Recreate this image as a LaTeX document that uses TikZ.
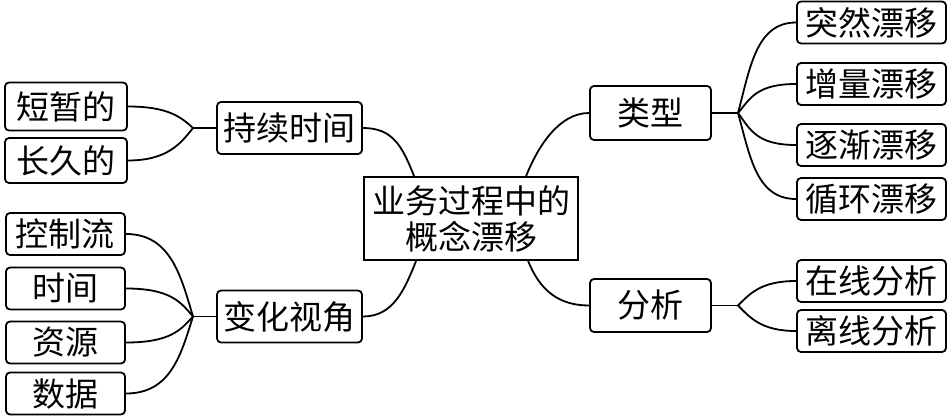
\documentclass[tikz,border=0pt]{standalone}
\usepackage{fontspec}
\newfontfamily\cjkfam{Noto Sans CJK SC}
\usetikzlibrary{calc}
\tikzset{
  basebox/.style={draw, line width=1.8pt, inner sep=0pt, align=center,
    font=\cjkfam\fontsize{33}{36}\selectfont},
  leafbox/.style={basebox, rounded corners=4pt, minimum height=42pt},
  branchbox/.style={basebox, rounded corners=4pt, minimum width=145pt, minimum height=52pt},
  rootbox/.style={basebox, minimum width=214pt, minimum height=83pt},
  link/.style={line width=1.8pt, line cap=round}
}
\begin{document}
\begin{tikzpicture}[x=1pt,y=-1pt]
\useasboundingbox (0,0) rectangle (950,417);
% root
\node[rootbox] (root) at (471,218.5) {业务过程中的\\概念漂移};
% left branches
\node[branchbox] (dur) at (289.5,128) {持续时间};
\node[branchbox] (view) at (289.5,316.5) {变化视角};
\node[leafbox, minimum width=122pt, minimum height=48pt] (short) at (66,106.5) {短暂的};
\node[leafbox, minimum width=122pt, minimum height=45pt] (long) at (66,160.5) {长久的};
\node[leafbox, minimum width=119pt] (ctrl) at (65.5,234) {控制流};
\node[leafbox, minimum width=119pt] (time) at (65.5,288.5) {时间};
\node[leafbox, minimum width=119pt] (res) at (65.5,342.5) {资源};
\node[leafbox, minimum width=119pt] (data) at (65.5,393.5) {数据};
% right branches
\node[branchbox, minimum width=121pt, minimum height=54pt] (type) at (650.5,113) {类型};
\node[branchbox, minimum width=121pt, minimum height=53pt] (ana) at (650.5,305.5) {分析};
\node[leafbox, minimum width=149pt] (sud) at (871.5,22.5) {突然漂移};
\node[leafbox, minimum width=149pt] (inc) at (871.5,84) {增量漂移};
\node[leafbox, minimum width=149pt] (grad) at (871.5,145) {逐渐漂移};
\node[leafbox, minimum width=149pt] (rec) at (871.5,199) {循环漂移};
\node[leafbox, minimum width=149pt] (onl) at (871.5,281) {在线分析};
\node[leafbox, minimum width=149pt] (off) at (871.5,331) {离线分析};
% junctions and attach points
\coordinate (JA) at (193,128);
\coordinate (JB) at (193,316.5);
\coordinate (JC) at (738,113);
\coordinate (JD) at (738,305.5);
\coordinate (rtl) at ($(root.north west)+(51,0)$);
\coordinate (rtr) at ($(root.north west)+(163,0)$);
\coordinate (rbl) at ($(root.south west)+(53,0)$);
\coordinate (rbr) at ($(root.south west)+(165,0)$);
% root connectors
\draw[link] (dur.east) .. controls +(30,0) and +(-12,-30) .. (rtl);
\draw[link] (view.east) .. controls +(30,0) and +(-12,30) .. (rbl);
\draw[link] (type.west) .. controls +(-30,0) and +(12,-30) .. (rtr);
\draw[link] (ana.west) .. controls +(-30,0) and +(12,30) .. (rbr);
% stems
\draw[link] (JA) -- (dur.west);
\draw[link] (JB) -- (view.west);
\draw[link] (type.east) -- (JC);
\draw[link] (ana.east) -- (JD);
% left leaves
\draw[link] (short.east) .. controls +(40,0) and +(-12,-11) .. (JA);
\draw[link] (long.east) .. controls +(40,0) and +(-12,15) .. (JA);
\draw[link] (ctrl.east) .. controls +(45,0) and +(-12,-40) .. (JB);
\draw[link] (time.east) .. controls +(45,0) and +(-12,-14) .. (JB);
\draw[link] (res.east) .. controls +(45,0) and +(-12,13) .. (JB);
\draw[link] (data.east) .. controls +(45,0) and +(-12,38) .. (JB);
% right leaves
\draw[link] (JC) .. controls +(12,-45) and +(-40,0) .. (sud.west);
\draw[link] (JC) .. controls +(12,-14) and +(-40,0) .. (inc.west);
\draw[link] (JC) .. controls +(12,16) and +(-40,0) .. (grad.west);
\draw[link] (JC) .. controls +(12,43) and +(-40,0) .. (rec.west);
\draw[link] (JD) .. controls +(12,-12) and +(-35,0) .. (onl.west);
\draw[link] (JD) .. controls +(12,12) and +(-35,0) .. (off.west);
\end{tikzpicture}
\end{document}
